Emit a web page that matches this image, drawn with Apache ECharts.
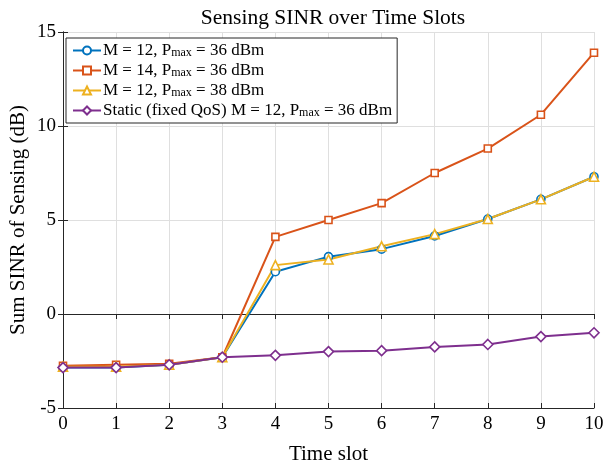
<!DOCTYPE html>
<html>
<head>
<meta charset="utf-8">
<script src="https://cdn.jsdelivr.net/npm/echarts@6/dist/echarts.min.js"></script>
<style>
  html, body { margin: 0; padding: 0; background: #fff; }
  #chart { width: 605px; height: 465px; }
</style>
</head>
<body>
<div id="chart"></div>
<script>
// time slots 0..10
var slots = [0, 1, 2, 3, 4, 5, 6, 7, 8, 9, 10];
var m12p36 = [-2.85, -2.85, -2.7, -2.3, 2.25, 3.05, 3.45, 4.15, 5.05, 6.1, 7.3];
var m14p36 = [-2.75, -2.7, -2.65, -2.3, 4.1, 5.0, 5.9, 7.5, 8.8, 10.6, 13.9];
var m12p38 = [-2.8, -2.8, -2.7, -2.3, 2.6, 2.9, 3.6, 4.25, 5.05, 6.1, 7.3];
var staticQos = [-2.85, -2.85, -2.7, -2.3, -2.2, -2.0, -1.95, -1.75, -1.62, -1.2, -1.0];
var yTicks = [-5, 0, 5, 10, 15];

var serif = 'Liberation Serif, Times New Roman, serif';
var axisColor = '#262626';

function pairs(ys) {
  var out = [];
  for (var i = 0; i < slots.length; i++) {
    out.push([slots[i], ys[i]]);
  }
  return out;
}

function makeSeries(name, ys, color, symbol, size) {
  return {
    name: name,
    type: 'line',
    data: pairs(ys),
    symbol: symbol,
    symbolSize: size,
    showAllSymbol: true,
    lineStyle: { color: color, width: 2 },
    itemStyle: { color: '#ffffff', borderColor: color, borderWidth: 1.6 },
    emphasis: { disabled: true },
    animation: false
  };
}

var names = [
  'M = 12, P_{max} = 36 dBm',
  'M = 14, P_{max} = 36 dBm',
  'M = 12, P_{max} = 38 dBm',
  'Static (fixed QoS) M = 12, P_{max} = 36 dBm'
];

var chart = echarts.init(document.getElementById('chart'));

var option = {
  backgroundColor: '#ffffff',
  title: {
    text: 'Sensing SINR over Time Slots',
    left: 328,
    textAlign: 'center',
    top: 2,
    textStyle: { fontFamily: serif, fontSize: 21.5, fontWeight: 'normal', color: '#000' }
  },
  grid: { left: 63, right: 11, top: 32, bottom: 57, containLabel: false, outerBoundsMode: 'none' },
  legend: {
    orient: 'vertical',
    left: 66,
    top: 38,
    padding: [4, 5, 4, 6],
    itemGap: 3,
    itemWidth: 28,
    itemHeight: 10,
    backgroundColor: '#ffffff',
    borderColor: axisColor,
    borderWidth: 1,
    data: names,
    formatter: function (n) {
      var parts = n.split('P_{max}');
      return '{a|' + parts[0] + 'P}{s|max}{a|' + parts[1] + '}';
    },
    textStyle: {
      fontFamily: serif,
      color: '#000',
      padding: [0, 0, 0, -3],
      rich: {
        a: { fontFamily: serif, fontSize: 17, color: '#000', lineHeight: 20 },
        s: { fontFamily: serif, fontSize: 12, color: '#000', lineHeight: 20, padding: [5, 0, 0, 0] }
      }
    }
  },
  xAxis: [{
    type: 'value',
    min: 0,
    max: 10,
    interval: 1,
    name: 'Time slot',
    nameLocation: 'middle',
    nameGap: 36,
    nameTextStyle: { fontFamily: serif, fontSize: 21, color: '#000' },
    axisLine: { show: true, onZero: false, lineStyle: { color: axisColor, width: 1 } },
    axisTick: { show: true, inside: true, length: 5, lineStyle: { color: axisColor } },
    axisLabel: { fontFamily: serif, fontSize: 19, color: '#000', margin: 7 },
    splitLine: { show: true, lineStyle: { color: '#dfdfdf', width: 1 } }
  }, {
    type: 'value',
    position: 'top',
    min: 0,
    max: 10,
    interval: 1,
    axisLine: { show: true, lineStyle: { color: axisColor, width: 1 } },
    axisTick: { show: true, inside: true, length: 5, lineStyle: { color: axisColor } },
    axisLabel: { show: false },
    splitLine: { show: false }
  }],
  yAxis: [{
    type: 'value',
    min: yTicks[0],
    max: yTicks[yTicks.length - 1],
    interval: 5,
    name: 'Sum SINR of Sensing (dB)',
    nameLocation: 'middle',
    nameGap: 34,
    nameMoveOverlap: false,
    nameTextStyle: { fontFamily: serif, fontSize: 21, color: '#000' },
    axisLine: { show: true, onZero: false, lineStyle: { color: axisColor, width: 1 } },
    axisTick: { show: true, inside: true, length: 5, lineStyle: { color: axisColor } },
    axisLabel: { fontFamily: serif, fontSize: 19, color: '#000', margin: 7 },
    splitLine: { show: true, lineStyle: { color: '#dfdfdf', width: 1 } }
  }, {
    type: 'value',
    position: 'right',
    min: yTicks[0],
    max: yTicks[yTicks.length - 1],
    interval: 5,
    axisLine: { show: true, lineStyle: { color: axisColor, width: 1 } },
    axisTick: { show: true, inside: true, length: 5, lineStyle: { color: axisColor } },
    axisLabel: { show: false },
    splitLine: { show: false }
  }],
  series: [
    makeSeries(names[0], m12p36, '#0072BD', 'circle', 8),
    makeSeries(names[1], m14p36, '#D95319', 'rect', 7),
    makeSeries(names[2], m12p38, '#EDB120', 'triangle', 9),
    makeSeries(names[3], staticQos, '#7E2F8E', 'diamond', 10)
  ]
};

chart.setOption(option);
</script>
</body>
</html>
